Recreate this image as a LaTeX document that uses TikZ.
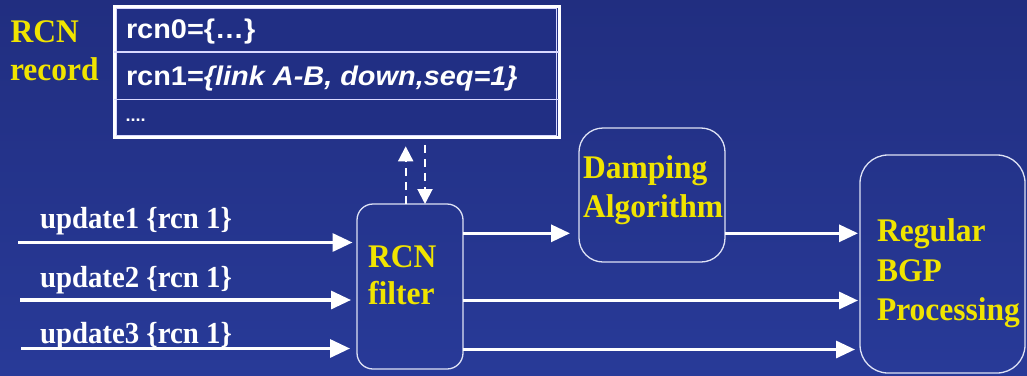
\documentclass[tikz,border=0pt]{standalone}
\usepackage{fontspec}
\usetikzlibrary{arrows.meta}
\newfontfamily\tnr[FakeStretch=0.955]{Liberation Serif}
\newfontfamily\tnrupd[FakeStretch=0.945]{Liberation Serif}
\newfontfamily\arl[FakeStretch=1.07]{Liberation Sans}
\definecolor{bgtop}{RGB}{33,46,128}
\definecolor{bgbot}{RGB}{40,58,152}
\definecolor{tblfill}{RGB}{33,47,132}
\definecolor{lblyellow}{RGB}{240,228,0}
\definecolor{boxedge}{RGB}{222,226,245}
\begin{document}
\begin{tikzpicture}[x=1pt,y=-1pt,
  every node/.style={inner sep=0pt, outer sep=0pt},
  ylabel/.style={text=lblyellow, font=\tnr\bfseries\fontsize{33}{38}\selectfont, anchor=base west},
  upd/.style={text=white, font=\tnrupd\bfseries\fontsize{30.5}{34}\selectfont, anchor=base west},
  rec/.style={text=white, font=\arl\bfseries\fontsize{27}{30}\selectfont, anchor=base west},
  procbox/.style={draw=boxedge, line width=1.3pt, rounded corners=#1, anchor=north west},
  flow/.style={draw=white, line width=3.2pt, -{Triangle[length=19pt,width=17pt]}},
  inflow/.style={flow, -{Triangle[length=20pt,width=18pt]}},
  probe/.style={draw=white, line width=2pt, dash pattern=on 8pt off 6pt, -{Triangle[length=15pt,width=15pt]}},
]
% page and background
\useasboundingbox (0,0) rectangle (1027,375);
\shade[top color=bgtop, bottom color=bgbot] (0,0) rectangle (1027,375);

% RCN record table
\node[draw=white, line width=2.8pt, fill=tblfill, anchor=north west,
      minimum width=445pt, minimum height=131.5pt] (record) at (114.3,6.3) {};
\draw[white!85!blue, line width=1pt] ([shift={(2.6,2.6)}]record.north west) rectangle ([shift={(-2.6,-2.6)}]record.south east);
\coordinate (sepA) at ([shift={(0,45.7)}]record.north west);
\coordinate (sepB) at ([shift={(0,93)}]record.north west);
\draw[white!85!blue, line width=1.3pt] (sepA) -- (sepA -| record.east);
\draw[white!85!blue, line width=1.3pt] (sepB) -- (sepB -| record.east);
\node[rec] (row0) at (126,38.5) {rcn0=\{\dots\}};
\node[rec] (row1) at (126,85) {rcn1=\textit{\{link A-B, down,seq=1\}}};
\node[rec, font=\arl\bfseries\fontsize{17}{19}\selectfont] (row2) at (125.5,121.5) {....};

\node[ylabel] (recA) at (10.5,42.3) {RCN};
\node[ylabel] (recB) at (10,80) {record};

% processing boxes
\node[procbox=16pt, minimum width=106pt, minimum height=165pt] (filter) at (357,204) {};
\node[procbox=24pt, minimum width=146pt, minimum height=134pt] (damp) at (579,128) {};
\node[procbox=28pt, minimum width=165pt, minimum height=218pt] (bgp) at (860,155) {};

\node[ylabel] (filterA) at (368,267) {RCN};
\node[ylabel] (filterB) at (368,304) {filter};
\node[ylabel] (dampA) at (583,178) {Damping};
\node[ylabel] (dampB) at (583,217) {Algorithm};
\node[ylabel] (bgpA) at (877,241.7) {Regular};
\node[ylabel] (bgpB) at (877,281.5) {BGP};
\node[ylabel] (bgpC) at (877,320) {Processing};

% incoming updates
\node[upd] (updA) at (40,228.5) {update1 \{rcn 1\}};
\node[upd] (updB) at (40,287) {update2 \{rcn 1\}};
\node[upd] (updC) at (40,343) {update3 \{rcn 1\}};
\coordinate (inA) at (18,242.5);
\coordinate (inB) at (20,300);
\coordinate (inC) at (21,348.5);
\draw[inflow, shorten >=4.5pt] (inA) -- (inA -| filter.west);
\draw[inflow, shorten >=6pt] (inB) -- (inB -| filter.west);
\draw[inflow, shorten >=7pt] (inC) -- (inC -| filter.west);

% lookups between filter and record
\coordinate (upX) at (405.7,0);
\coordinate (dnX) at (425,0);
\draw[probe, shorten >=8.5pt] (upX |- filter.north) -- (upX |- record.south);
\draw[probe, shorten <=7pt] (dnX |- record.south) -- (dnX |- filter.north);

% outgoing flows
\coordinate (outA) at (0,233.3);
\coordinate (outB) at (0,300.5);
\coordinate (outC) at (0,349.5);
\draw[flow, shorten >=9pt] (outA -| filter.east) -- (outA -| damp.west);
\draw[flow, shorten >=2pt] (outA -| damp.east) -- (outA -| bgp.west);
\draw[flow, shorten >=2pt] (outB -| filter.east) -- (outB -| bgp.west);
\draw[flow, shorten >=5pt] (outC -| filter.east) -- (outC -| bgp.west);
\end{tikzpicture}
\end{document}
